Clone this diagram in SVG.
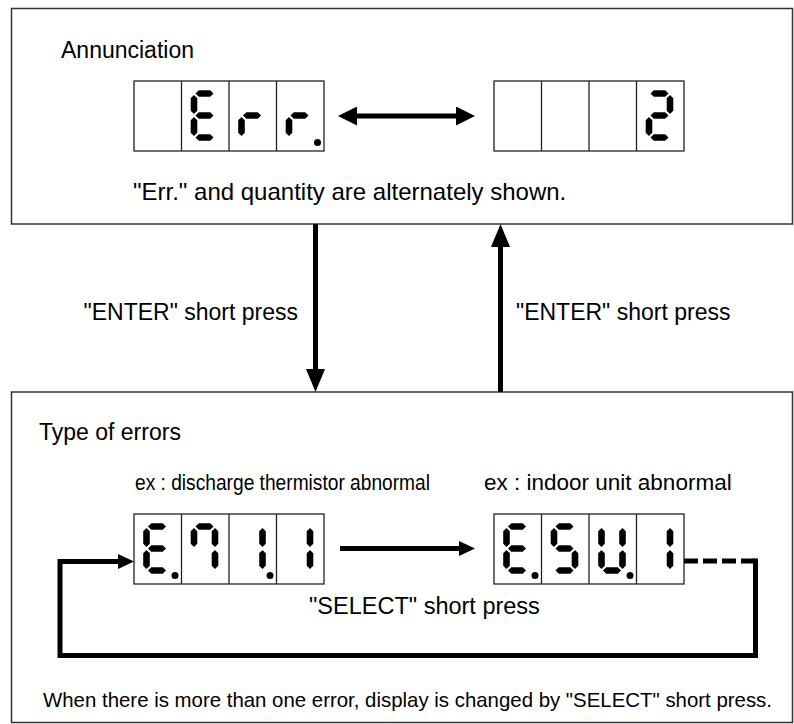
<svg xmlns="http://www.w3.org/2000/svg" width="794" height="724" viewBox="0 0 794 724">
<style>
  text { font-family: "Liberation Sans", Arial, sans-serif; fill: #000; }
  .box { fill: #fff; stroke: #333; stroke-width: 1.5; }
  .cell { fill: #fff; stroke: #222; stroke-width: 1.3; }
  .seg { fill: #000; }
  .thick { fill: none; stroke: #000; stroke-width: 5; stroke-linejoin: miter; stroke-linecap: butt; }
  .dash { fill: none; stroke: #000; stroke-width: 5; stroke-dasharray: 14 5; }
</style>
<defs>
  <polygon id="sh" class="seg" points="0,0 3.3,-3.3 14.7,-3.3 18,0 14.7,3.3 3.3,3.3"/>
  <polygon id="sv" class="seg" points="0,0 3.3,3.3 3.3,15.7 0,19 -3.3,15.7 -3.3,3.3"/>
  <g id="sa"><use href="#sh" x="5" y="3.5"/></g>
  <g id="sb"><use href="#sv" x="24.5" y="5"/></g>
  <g id="sc"><use href="#sv" x="24.5" y="27"/></g>
  <g id="sd"><use href="#sh" x="5" y="47.5"/></g>
  <g id="se"><use href="#sv" x="3.5" y="27"/></g>
  <g id="sf"><use href="#sv" x="3.5" y="5"/></g>
  <g id="sg"><use href="#sh" x="5" y="25.5"/></g>
  <g id="dE"><use href="#sa"/><use href="#sd"/><use href="#se"/><use href="#sf"/><use href="#sg"/></g>
  <g id="dr"><use href="#se"/><use href="#sg"/></g>
  <g id="d2"><use href="#sa"/><use href="#sb"/><use href="#sg"/><use href="#se"/><use href="#sd"/></g>
  <g id="d7"><use href="#sa"/><use href="#sb"/><use href="#sc"/><use href="#sf"/></g>
  <g id="d1"><use href="#sb"/><use href="#sc"/></g>
  <g id="dS"><use href="#sa"/><use href="#sf"/><use href="#sg"/><use href="#sc"/><use href="#sd"/></g>
  <g id="dU"><use href="#sb"/><use href="#sc"/><use href="#sd"/><use href="#se"/><use href="#sf"/></g>
  <g id="disp">
    <rect class="cell" x="0" y="0" width="190" height="70"/>
    <line x1="47.5" y1="0" x2="47.5" y2="70" stroke="#222" stroke-width="1.3"/>
    <line x1="95" y1="0" x2="95" y2="70" stroke="#222" stroke-width="1.3"/>
    <line x1="142.5" y1="0" x2="142.5" y2="70" stroke="#222" stroke-width="1.3"/>
  </g>
  <marker id="ahL" viewBox="0 0 19 19" refX="1" refY="9.5" markerWidth="19" markerHeight="19" markerUnits="userSpaceOnUse" orient="auto-start-reverse">
    <path d="M0,0 L19,9.5 L0,19 z" fill="#000"/>
  </marker>
  <marker id="ahV" viewBox="0 0 23 19" refX="1" refY="9.5" markerWidth="23" markerHeight="19" markerUnits="userSpaceOnUse" orient="auto">
    <path d="M0,0 L23,9.5 L0,19 z" fill="#000"/>
  </marker>
  <marker id="ahS" viewBox="0 0 16 15" refX="1" refY="7.5" markerWidth="16" markerHeight="15" markerUnits="userSpaceOnUse" orient="auto">
    <path d="M0,0 L16,7.5 L0,15 z" fill="#000"/>
  </marker>
</defs>

<g id="annunciation">
  <rect class="box" x="11.5" y="8.5" width="781" height="215.5"/>
  <text x="61" y="58" font-size="23">Annunciation</text>
  <g id="display-err">
    <use href="#disp" x="134" y="81"/>
    <use href="#dE" x="190.5" y="90"/>
    <use href="#dr" x="238" y="90"/>
    <use href="#dr" x="285.5" y="90"/>
    <circle cx="317.5" cy="142.5" r="3.5"/>
  </g>
  <g id="display-qty">
    <use href="#disp" x="494" y="81"/>
    <use href="#d2" x="645.5" y="90"/>
  </g>
  <text x="133" y="200" font-size="24">"Err." and quantity are alternately shown.</text>
</g>

<g id="type-of-errors">
  <rect class="box" x="11.5" y="392" width="781" height="330.5"/>
  <text x="39" y="440" font-size="23">Type of errors</text>
  <text x="135" y="490" font-size="21.5" textLength="295" lengthAdjust="spacingAndGlyphs">ex : discharge thermistor abnormal</text>
  <text x="484" y="490" font-size="22.5">ex : indoor unit abnormal</text>
  <g id="display-e711">
    <use href="#disp" x="134" y="514"/>
    <use href="#dE" x="143" y="523"/>
    <circle cx="175" cy="575.5" r="3.5"/>
    <use href="#d7" x="190.5" y="523"/>
    <use href="#d1" x="238" y="523"/>
    <circle cx="270" cy="575.5" r="3.5"/>
    <use href="#d1" x="285.5" y="523"/>
  </g>
  <g id="display-esu1">
    <use href="#disp" x="494" y="514"/>
    <use href="#dE" x="503" y="523"/>
    <circle cx="535" cy="575.5" r="3.5"/>
    <use href="#dS" x="550.5" y="523"/>
    <use href="#dU" x="598" y="523"/>
    <circle cx="630" cy="575.5" r="3.5"/>
    <use href="#d1" x="645.5" y="523"/>
  </g>
  <text x="309" y="614" font-size="23.5">"SELECT" short press</text>
  <text x="43" y="707" font-size="21" textLength="729" lengthAdjust="spacingAndGlyphs">When there is more than one error, display is changed by "SELECT" short press.</text>
</g>

<g id="connectors">
  <line class="thick" x1="356" y1="116" x2="457" y2="116" marker-start="url(#ahL)" marker-end="url(#ahL)"/>
  <line class="thick" x1="315.5" y1="224" x2="315.5" y2="370" marker-end="url(#ahV)"/>
  <line class="thick" x1="500.5" y1="392" x2="500.5" y2="246" marker-end="url(#ahV)"/>
  <text x="298" y="320" font-size="23" text-anchor="end">"ENTER" short press</text>
  <text x="516" y="320" font-size="23">"ENTER" short press</text>
  <line class="thick" x1="340" y1="548.5" x2="460" y2="548.5" marker-end="url(#ahS)"/>
  <line class="dash" x1="684" y1="561" x2="758" y2="561"/>
  <path class="thick" d="M755.5,558.5 V655.5 H60 V561.5 H119" marker-end="url(#ahS)"/>
</g>
</svg>
